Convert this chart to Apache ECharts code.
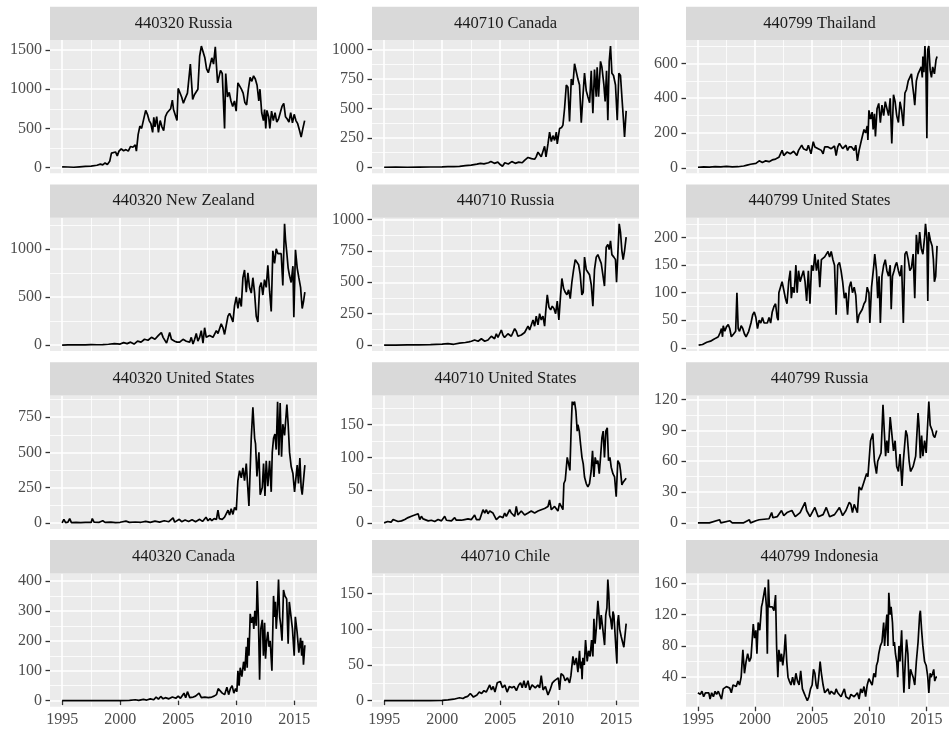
<!DOCTYPE html>
<html>
<head>
<meta charset="utf-8">
<script src="https://cdn.jsdelivr.net/npm/echarts@6/dist/echarts.min.js"></script>
<style>
  html, body { margin: 0; padding: 0; background: #ffffff; }
  #chart { width: 949px; height: 730px; }
</style>
</head>
<body>
<div id="chart"></div>
<script>
// Monthly import volumes by HS code and partner, one facet per pair.
// Each series is a list of [decimal year, value].

const panelTitles = [
  '440320 Russia', '440710 Canada', '440799 Thailand',
  '440320 New Zealand', '440710 Russia', '440799 United States',
  '440320 United States', '440710 United States', '440799 Russia',
  '440320 Canada', '440710 Chile', '440799 Indonesia'
];

const yearTicks = [1995, 2000, 2005, 2010, 2015];

const yTicks = [
  [0, 500, 1000, 1500], [0, 250, 500, 750, 1000], [0, 200, 400, 600],
  [0, 500, 1000], [0, 250, 500, 750, 1000], [0, 50, 100, 150, 200],
  [0, 250, 500, 750], [0, 50, 100, 150], [0, 30, 60, 90, 120],
  [0, 100, 200, 300, 400], [0, 50, 100, 150], [40, 80, 120, 160]
];

const russia440320 = [[1995,10],[1995.5,8],[1996,5],[1996.5,10],[1997,15],[1997.5,20],[1998,30],[1998.3,45],[1998.5,35],[1998.7,60],[1998.9,40],[1999.1,80],[1999.25,185],[1999.4,170],[1999.6,200],[1999.75,150],[1999.9,210],[2000.1,240],[2000.3,215],[2000.5,230],[2000.7,210],[2000.9,270],[2001.1,260],[2001.3,290],[2001.4,210],[2001.55,420],[2001.7,530],[2001.85,500],[2002,600],[2002.2,730],[2002.35,680],[2002.5,600],[2002.65,560],[2002.8,450],[2002.9,640],[2003,520],[2003.15,650],[2003.3,450],[2003.45,600],[2003.6,520],[2003.75,470],[2003.9,650],[2004.05,700],[2004.2,680],[2004.35,750],[2004.5,860],[2004.6,740],[2004.75,760],[2004.9,600],[2005,1010],[2005.15,1020],[2005.3,900],[2005.45,820],[2005.6,880],[2005.8,950],[2005.95,930],[2006.05,1320],[2006.15,1340],[2006.25,870],[2006.4,930],[2006.55,920],[2006.7,1000],[2006.85,1420],[2007,1550],[2007.15,1550],[2007.3,1400],[2007.45,1260],[2007.6,1210],[2007.75,1200],[2007.9,1400],[2008.05,1320],[2008.2,1540],[2008.3,1300],[2008.4,1080],[2008.55,1100],[2008.65,1240],[2008.8,1200],[2009,500],[2009.1,1200],[2009.25,900],[2009.4,960],[2009.55,850],[2009.7,780],[2009.85,850],[2010,720],[2010.15,1080],[2010.3,1100],[2010.45,1000],[2010.6,950],[2010.75,830],[2010.9,800],[2011.05,1000],[2011.2,1150],[2011.35,1100],[2011.5,1170],[2011.65,1130],[2011.8,1050],[2011.95,850],[2012.05,1000],[2012.2,700],[2012.35,600],[2012.45,740],[2012.55,500],[2012.65,730],[2012.8,650],[2012.9,500],[2013.05,720],[2013.2,600],[2013.35,700],[2013.5,580],[2013.65,620],[2013.8,700],[2013.95,780],[2014.1,820],[2014.25,650],[2014.4,620],[2014.55,580],[2014.7,700],[2014.85,570],[2015,680],[2015.15,600],[2015.3,560],[2015.45,480],[2015.6,390],[2015.75,500],[2015.9,600]];

const canada440710 = [[1995,2],[1996,3],[1997,2],[1998,3],[1999,4],[2000,5],[2000.5,7],[2001,8],[2001.5,10],[2002,15],[2002.5,20],[2003,28],[2003.3,35],[2003.6,30],[2004,40],[2004.2,50],[2004.5,35],[2004.8,45],[2005,25],[2005.2,10],[2005.4,40],[2005.7,30],[2006,50],[2006.3,35],[2006.6,45],[2006.9,40],[2007.1,60],[2007.4,85],[2007.7,75],[2007.97,70],[2008.1,90],[2008.26,130],[2008.4,110],[2008.54,90],[2008.7,140],[2008.83,180],[2008.95,90],[2009.12,200],[2009.26,300],[2009.41,220],[2009.55,270],[2009.69,230],[2009.84,300],[2009.92,200],[2010.12,330],[2010.3,340],[2010.41,360],[2010.55,500],[2010.7,700],[2010.84,680],[2010.98,390],[2011.13,750],[2011.27,700],[2011.41,880],[2011.56,890],[2011.7,750],[2011.84,700],[2011.99,380],[2012.13,600],[2012.27,800],[2012.42,650],[2012.56,600],[2012.71,550],[2012.85,820],[2012.99,460],[2013.13,830],[2013.28,600],[2013.36,850],[2013.48,600],[2013.65,900],[2013.77,850],[2013.94,700],[2014.05,560],[2014.17,820],[2014.28,400],[2014.4,900],[2014.51,1030],[2014.63,800],[2014.77,780],[2014.94,700],[2015.09,400],[2015.23,800],[2015.37,780],[2015.49,600],[2015.63,400],[2015.72,260],[2015.86,480]];

const thailand440799 = [[1995,3],[1995.5,5],[1996,4],[1996.5,6],[1997,5],[1997.5,8],[1998,5],[1998.5,6],[1999,10],[1999.3,15],[1999.6,20],[2000.07,25],[2000.36,40],[2000.64,30],[2000.93,40],[2001.22,35],[2001.5,45],[2001.79,50],[2002.08,60],[2002.36,100],[2002.51,70],[2002.79,90],[2003.08,80],[2003.37,95],[2003.65,70],[2003.8,100],[2004.08,130],[2004.23,110],[2004.51,100],[2004.66,130],[2004.89,80],[2005.09,150],[2005.23,120],[2005.52,110],[2005.8,100],[2005.95,80],[2006.09,120],[2006.38,120],[2006.66,110],[2006.95,125],[2007.09,70],[2007.23,120],[2007.38,140],[2007.66,110],[2007.95,130],[2008.09,100],[2008.24,120],[2008.44,120],[2008.67,100],[2008.81,130],[2008.95,40],[2009.1,100],[2009.24,140],[2009.38,180],[2009.53,220],[2009.67,200],[2009.81,240],[2009.87,160],[2009.96,330],[2010.1,280],[2010.24,320],[2010.33,220],[2010.44,310],[2010.53,180],[2010.67,340],[2010.82,370],[2010.96,260],[2011.1,360],[2011.25,300],[2011.39,380],[2011.53,390],[2011.68,300],[2011.82,400],[2011.96,140],[2012.11,420],[2012.25,380],[2012.39,300],[2012.54,260],[2012.68,380],[2012.82,330],[2012.97,240],[2013.11,430],[2013.25,450],[2013.4,500],[2013.54,520],[2013.68,540],[2013.77,480],[2013.88,420],[2013.97,360],[2014.11,500],[2014.26,540],[2014.4,560],[2014.54,580],[2014.63,520],[2014.68,640],[2014.77,550],[2014.86,700],[2014.94,600],[2015.03,170],[2015.11,680],[2015.2,700],[2015.32,560],[2015.43,520],[2015.54,580],[2015.69,540],[2015.83,620],[2015.92,640]];

const newZealand440320 = [[1995,0],[1995.5,2],[1996,1],[1996.5,3],[1997,2],[1997.5,4],[1998,3],[1998.5,5],[1999,8],[1999.5,15],[2000,10],[2000.3,25],[2000.6,15],[2000.9,30],[2001.2,10],[2001.5,40],[2001.8,30],[2002.1,60],[2002.4,50],[2002.7,80],[2003,60],[2003.3,100],[2003.55,130],[2003.7,80],[2003.85,60],[2004,20],[2004.15,80],[2004.27,130],[2004.42,60],[2004.7,40],[2004.9,30],[2005.13,30],[2005.42,60],[2005.7,40],[2005.99,30],[2006.13,80],[2006.28,10],[2006.42,60],[2006.56,120],[2006.7,40],[2006.85,80],[2006.99,150],[2007.14,20],[2007.28,180],[2007.42,80],[2007.71,100],[2008,80],[2008.29,150],[2008.43,120],[2008.71,220],[2008.86,180],[2009,110],[2009.29,300],[2009.43,330],[2009.57,290],[2009.72,240],[2009.86,410],[2010.01,500],[2010.15,380],[2010.29,490],[2010.44,400],[2010.58,700],[2010.72,780],[2010.87,550],[2011.01,750],[2011.15,600],[2011.3,540],[2011.44,700],[2011.58,550],[2011.73,300],[2011.87,240],[2012.02,600],[2012.16,650],[2012.3,520],[2012.44,680],[2012.59,600],[2012.73,830],[2012.88,560],[2013.02,350],[2013.16,980],[2013.31,850],[2013.45,1000],[2013.6,950],[2013.74,930],[2013.88,950],[2014.02,620],[2014.17,1260],[2014.25,1100],[2014.37,950],[2014.48,800],[2014.6,720],[2014.74,650],[2014.89,820],[2014.97,290],[2015.11,990],[2015.26,800],[2015.4,700],[2015.55,600],[2015.69,380],[2015.8,450],[2015.92,550]];

const russia440710 = [[1995,0],[1996,0],[1997,1],[1998,2],[1999,3],[1999.5,6],[2000,8],[2000.5,12],[2001,6],[2001.5,15],[2002,20],[2002.3,25],[2002.52,30],[2002.8,40],[2003.1,30],[2003.38,50],[2003.67,30],[2003.95,40],[2004.24,70],[2004.52,50],[2004.67,90],[2004.81,60],[2005.1,120],[2005.24,80],[2005.38,60],[2005.67,90],[2005.96,70],[2006.25,130],[2006.39,110],[2006.53,70],[2006.82,80],[2007.11,100],[2007.4,150],[2007.54,120],[2007.68,130],[2007.83,200],[2007.97,150],[2008.11,230],[2008.26,160],[2008.4,250],[2008.54,200],[2008.69,230],[2008.83,150],[2008.92,260],[2009.06,400],[2009.21,300],[2009.35,280],[2009.49,310],[2009.64,290],[2009.78,250],[2009.92,350],[2010.06,200],[2010.21,400],[2010.32,530],[2010.47,450],[2010.61,420],[2010.75,400],[2010.9,440],[2011.04,370],[2011.18,500],[2011.33,600],[2011.47,680],[2011.61,690],[2011.76,640],[2011.9,560],[2012.04,400],[2012.16,420],[2012.27,700],[2012.42,600],[2012.56,580],[2012.7,560],[2012.85,480],[2012.99,310],[2013.13,600],[2013.28,700],[2013.42,720],[2013.56,730],[2013.71,650],[2013.85,560],[2013.99,470],[2014.14,780],[2014.28,800],[2014.4,760],[2014.51,830],[2014.63,720],[2014.8,700],[2014.94,680],[2015.03,500],[2015.14,720],[2015.26,965],[2015.37,900],[2015.49,750],[2015.6,680],[2015.72,750],[2015.86,860]];

const unitedStates440799 = [[1995.06,5],[1995.4,6],[1995.77,10],[1996.1,12],[1996.35,15],[1996.6,18],[1996.78,20],[1996.95,28],[1997.06,35],[1997.15,20],[1997.21,40],[1997.35,30],[1997.49,38],[1997.65,42],[1997.78,35],[1997.92,20],[1998.12,25],[1998.3,30],[1998.41,100],[1998.52,35],[1998.64,30],[1998.78,40],[1998.92,35],[1999.07,25],[1999.21,20],[1999.44,30],[1999.64,45],[1999.79,60],[1999.93,65],[2000.07,55],[2000.21,35],[2000.36,50],[2000.5,45],[2000.64,55],[2000.79,45],[2000.93,48],[2001.07,45],[2001.22,55],[2001.36,45],[2001.5,65],[2001.65,75],[2001.79,80],[2001.93,55],[2002.02,50],[2002.08,100],[2002.22,110],[2002.36,120],[2002.51,105],[2002.65,90],[2002.79,80],[2002.94,120],[2003.08,140],[2003.17,90],[2003.28,110],[2003.42,100],[2003.57,150],[2003.68,100],[2003.8,140],[2003.94,120],[2004.08,130],[2004.23,140],[2004.37,120],[2004.51,85],[2004.66,140],[2004.8,80],[2004.94,150],[2005.09,140],[2005.23,170],[2005.37,140],[2005.52,160],[2005.66,110],[2005.8,160],[2006.09,165],[2006.38,175],[2006.52,165],[2006.66,175],[2006.81,160],[2006.95,150],[2007.09,60],[2007.23,150],[2007.38,155],[2007.52,140],[2007.66,120],[2007.81,90],[2007.95,100],[2008.09,60],[2008.24,110],[2008.38,120],[2008.52,100],[2008.67,110],[2008.81,95],[2008.95,45],[2009.1,60],[2009.24,60],[2009.38,70],[2009.53,80],[2009.67,85],[2009.81,110],[2009.96,100],[2010.04,45],[2010.19,110],[2010.39,150],[2010.47,170],[2010.62,140],[2010.73,90],[2010.85,130],[2010.96,45],[2011.1,130],[2011.25,150],[2011.39,160],[2011.53,140],[2011.68,130],[2011.82,150],[2011.91,70],[2012.02,130],[2012.16,140],[2012.28,150],[2012.39,155],[2012.54,140],[2012.68,130],[2012.82,150],[2012.97,45],[2013.11,170],[2013.25,175],[2013.4,160],[2013.54,140],[2013.68,145],[2013.83,170],[2013.97,90],[2014.11,205],[2014.26,170],[2014.4,210],[2014.54,180],[2014.68,170],[2014.83,200],[2014.91,225],[2015.03,200],[2015.11,85],[2015.2,210],[2015.34,195],[2015.49,185],[2015.6,160],[2015.69,120],[2015.8,130],[2015.92,185]];

const unitedStates440320 = [[1995,0],[1995.15,25],[1995.3,2],[1995.5,5],[1995.65,30],[1995.8,2],[1996.2,3],[1996.6,2],[1997,4],[1997.5,3],[1997.6,30],[1997.75,5],[1998.2,4],[1998.5,15],[1998.7,3],[1999.2,5],[1999.6,2],[2000,4],[2000.5,12],[2000.8,3],[2001.3,6],[2001.8,4],[2002.2,10],[2002.6,3],[2003,12],[2003.4,5],[2003.8,15],[2004.2,8],[2004.56,35],[2004.7,5],[2005.1,25],[2005.3,8],[2005.6,20],[2005.9,10],[2006.2,22],[2006.5,8],[2006.85,25],[2007.1,10],[2007.4,40],[2007.57,15],[2007.75,30],[2007.9,15],[2008.1,30],[2008.3,25],[2008.43,90],[2008.55,30],[2008.8,25],[2009,40],[2009.15,35],[2009.3,90],[2009.43,55],[2009.57,100],[2009.72,60],[2009.86,110],[2010.01,90],[2010.15,300],[2010.29,370],[2010.44,320],[2010.58,390],[2010.72,300],[2010.87,420],[2011.1,120],[2011.3,600],[2011.44,820],[2011.59,600],[2011.67,560],[2011.79,330],[2011.96,500],[2012.07,200],[2012.25,250],[2012.36,420],[2012.48,190],[2012.59,440],[2012.73,260],[2012.88,440],[2013.02,220],[2013.11,500],[2013.22,600],[2013.34,630],[2013.45,520],[2013.57,860],[2013.68,480],[2013.79,850],[2013.91,470],[2014.02,700],[2014.17,620],[2014.37,840],[2014.48,700],[2014.6,500],[2014.74,400],[2014.89,350],[2015.03,220],[2015.17,230],[2015.26,410],[2015.37,280],[2015.49,460],[2015.6,250],[2015.69,200],[2015.8,300],[2015.92,410]];

const unitedStates440710 = [[1995,0],[1995.3,2],[1995.6,1],[1995.77,5],[1996.2,2],[1996.5,3],[1996.78,5],[1997.07,8],[1997.2,5],[1997.35,10],[1997.5,8],[1997.64,12],[1997.78,10],[1997.93,14],[1998.07,5],[1998.21,10],[1998.36,6],[1998.5,6],[1998.8,3],[1999.07,4],[1999.36,2],[1999.65,5],[1999.94,3],[2000.22,10],[2000.37,4],[2000.51,5],[2000.8,3],[2001.08,8],[2001.22,4],[2001.37,5],[2001.65,4],[2001.94,5],[2002.23,6],[2002.52,5],[2002.8,12],[2002.95,5],[2003.24,5],[2003.38,8],[2003.52,20],[2003.67,15],[2003.81,20],[2003.95,14],[2004.1,18],[2004.24,20],[2004.38,15],[2004.53,12],[2004.67,5],[2004.81,8],[2004.96,10],[2005.1,12],[2005.24,8],[2005.39,15],[2005.53,10],[2005.67,12],[2005.82,20],[2005.96,15],[2006.1,18],[2006.25,10],[2006.39,25],[2006.53,12],[2006.82,18],[2006.97,15],[2007.11,12],[2007.4,15],[2007.68,18],[2007.97,15],[2008.26,18],[2008.54,20],[2008.83,22],[2009.12,25],[2009.26,35],[2009.41,20],[2009.69,25],[2009.84,22],[2009.98,18],[2010.12,30],[2010.27,25],[2010.41,20],[2010.49,60],[2010.61,65],[2010.78,100],[2010.9,90],[2011.01,80],[2011.13,150],[2011.21,185],[2011.3,180],[2011.41,185],[2011.53,170],[2011.64,140],[2011.7,150],[2011.82,140],[2011.93,120],[2012.05,100],[2012.16,90],[2012.27,70],[2012.42,60],[2012.56,55],[2012.7,60],[2012.85,80],[2012.96,110],[2013.08,70],[2013.19,100],[2013.31,90],[2013.42,95],[2013.54,75],[2013.65,100],[2013.77,130],[2013.88,140],[2013.99,100],[2014.11,140],[2014.23,145],[2014.34,95],[2014.46,100],[2014.57,85],[2014.72,75],[2014.86,70],[2015,40],[2015.14,95],[2015.29,90],[2015.37,80],[2015.49,58],[2015.6,62],[2015.72,60],[2015.86,68]];

const russia440799 = [[1995,0],[1996,0],[1996.9,3],[1997,0],[1997.8,2],[1998,0],[1999,0],[1999.5,3],[1999.6,0],[2000.07,2],[2000.36,3],[2001.22,4],[2001.45,10],[2001.56,5],[2001.93,6],[2002.31,12],[2002.51,7],[2002.79,10],[2003.22,12],[2003.51,6],[2003.94,10],[2004.37,20],[2004.51,12],[2004.8,6],[2005.23,15],[2005.52,6],[2005.95,8],[2006.23,15],[2006.52,6],[2006.95,8],[2007.38,15],[2007.66,7],[2007.95,12],[2008.24,20],[2008.38,18],[2008.52,10],[2008.67,18],[2008.95,10],[2009.1,35],[2009.3,32],[2009.53,40],[2009.76,48],[2009.87,45],[2010.1,80],[2010.3,87],[2010.44,60],[2010.62,48],[2010.73,60],[2011.02,68],[2011.19,115],[2011.3,90],[2011.42,65],[2011.53,80],[2011.65,68],[2011.82,103],[2011.96,102],[2012.11,70],[2012.25,80],[2012.39,55],[2012.54,50],[2012.68,67],[2012.85,36],[2012.97,60],[2013.19,90],[2013.31,85],[2013.48,60],[2013.6,50],[2013.83,55],[2014.05,65],[2014.26,107],[2014.34,95],[2014.46,63],[2014.57,85],[2014.68,65],[2014.83,80],[2014.97,68],[2015.2,118],[2015.32,95],[2015.49,90],[2015.6,85],[2015.72,83],[2015.89,90]];

const canada440320 = [[1995,0],[1996,0],[1997,0],[1998,0],[1999,0],[2000,0],[2000.8,1],[2001.3,3],[2001.6,1],[2002,4],[2002.3,2],[2002.6,6],[2002.9,3],[2003.1,12],[2003.3,5],[2003.5,14],[2003.7,6],[2003.9,10],[2004.2,6],[2004.5,12],[2004.8,8],[2005,15],[2005.2,8],[2005.5,25],[2005.65,10],[2005.8,30],[2006,10],[2006.3,12],[2006.5,15],[2006.8,25],[2007,10],[2007.3,12],[2007.6,10],[2007.9,12],[2008.1,15],[2008.3,20],[2008.45,40],[2008.6,35],[2008.8,25],[2009,20],[2009.2,45],[2009.35,20],[2009.5,40],[2009.65,50],[2009.8,25],[2009.95,40],[2010.06,30],[2010.15,100],[2010.25,50],[2010.35,110],[2010.49,80],[2010.64,130],[2010.75,100],[2010.87,180],[2010.95,110],[2011.01,210],[2011.1,150],[2011.21,290],[2011.32,260],[2011.44,280],[2011.52,240],[2011.61,300],[2011.73,250],[2011.81,400],[2011.92,270],[2012.02,70],[2012.12,240],[2012.25,270],[2012.35,150],[2012.45,260],[2012.53,140],[2012.63,200],[2012.73,230],[2012.83,180],[2012.93,200],[2013.08,100],[2013.22,350],[2013.32,280],[2013.38,330],[2013.45,240],[2013.55,300],[2013.65,405],[2013.75,280],[2013.85,250],[2013.95,200],[2014.08,370],[2014.2,350],[2014.35,340],[2014.48,190],[2014.58,330],[2014.68,330],[2014.85,240],[2015,150],[2015.1,280],[2015.25,230],[2015.4,160],[2015.55,210],[2015.65,150],[2015.72,200],[2015.8,120],[2015.92,185]];

const chile440710 = [[1995,0],[1996,0],[1997,0],[1998,0],[1999,0],[2000,0.5],[2000.5,1],[2001,2],[2001.5,4],[2001.8,3],[2002,5],[2002.2,6],[2002.43,10],[2002.7,5],[2003,8],[2003.2,12],[2003.4,10],[2003.6,14],[2003.8,12],[2004.1,22],[2004.25,15],[2004.4,20],[2004.55,12],[2004.75,25],[2005.01,27],[2005.2,18],[2005.4,22],[2005.6,12],[2005.8,20],[2006.02,18],[2006.2,20],[2006.4,14],[2006.6,22],[2006.76,25],[2006.9,18],[2007.05,28],[2007.2,18],[2007.4,28],[2007.55,15],[2007.75,22],[2008.03,18],[2008.25,22],[2008.4,18],[2008.54,35],[2008.7,15],[2008.9,20],[2009.12,8],[2009.3,15],[2009.5,25],[2009.69,28],[2009.85,30],[2010.01,32],[2010.12,15],[2010.25,38],[2010.45,35],[2010.6,28],[2010.8,32],[2010.98,25],[2011.1,35],[2011.27,62],[2011.4,50],[2011.56,60],[2011.7,40],[2011.84,70],[2011.92,45],[2011.99,55],[2012.06,30],[2012.13,60],[2012.25,50],[2012.36,85],[2012.5,55],[2012.62,70],[2012.75,62],[2012.88,85],[2012.99,62],[2013.08,115],[2013.18,80],[2013.28,100],[2013.42,140],[2013.52,120],[2013.6,100],[2013.71,120],[2013.85,100],[2014,78],[2014.1,120],[2014.2,130],[2014.28,170],[2014.36,150],[2014.43,120],[2014.52,115],[2014.63,100],[2014.72,125],[2014.8,120],[2014.94,120],[2015.06,52],[2015.12,110],[2015.2,120],[2015.3,100],[2015.43,90],[2015.66,75],[2015.86,108]];

const indonesia440799 = [[1995,20],[1995.2,18],[1995.35,22],[1995.5,15],[1995.65,20],[1995.8,18],[1995.95,20],[1996.06,12],[1996.2,20],[1996.35,15],[1996.5,22],[1996.63,18],[1996.78,22],[1996.92,20],[1997.06,12],[1997.21,25],[1997.49,28],[1997.78,26],[1997.92,20],[1998.07,30],[1998.35,28],[1998.5,35],[1998.64,30],[1998.78,40],[1998.93,75],[1999.07,45],[1999.21,60],[1999.35,70],[1999.5,60],[1999.64,65],[1999.84,108],[1999.95,90],[2000.07,100],[2000.16,70],[2000.27,110],[2000.41,100],[2000.56,130],[2000.64,135],[2000.79,135],[2000.87,155],[2000.99,130],[2001.07,70],[2001.16,165],[2001.25,130],[2001.36,128],[2001.5,130],[2001.65,125],[2001.79,145],[2001.88,80],[2001.99,40],[2002.08,75],[2002.22,60],[2002.31,70],[2002.42,55],[2002.54,70],[2002.65,95],[2002.77,60],[2002.88,40],[2003,35],[2003.14,30],[2003.28,40],[2003.42,30],[2003.57,45],[2003.71,35],[2003.85,30],[2003.99,48],[2004.14,25],[2004.28,20],[2004.42,15],[2004.57,10],[2004.71,15],[2004.85,25],[2004.99,30],[2005.11,50],[2005.23,45],[2005.34,30],[2005.46,25],[2005.57,40],[2005.69,60],[2005.8,45],[2005.95,30],[2006.09,20],[2006.23,22],[2006.38,25],[2006.52,18],[2006.66,22],[2006.81,20],[2006.95,18],[2007.09,25],[2007.23,20],[2007.52,15],[2007.66,20],[2007.81,25],[2007.95,15],[2008.09,15],[2008.24,12],[2008.38,18],[2008.52,20],[2008.67,15],[2008.81,15],[2008.95,20],[2009.1,12],[2009.24,25],[2009.38,20],[2009.53,28],[2009.67,15],[2009.81,30],[2009.96,38],[2010.1,40],[2010.24,30],[2010.39,45],[2010.53,40],[2010.62,55],[2010.73,60],[2010.82,70],[2010.96,80],[2011.1,85],[2011.25,110],[2011.33,80],[2011.42,100],[2011.53,120],[2011.62,80],[2011.7,148],[2011.82,120],[2011.9,130],[2012.02,110],[2012.11,80],[2012.19,85],[2012.28,70],[2012.39,60],[2012.48,40],[2012.59,80],[2012.68,60],[2012.82,100],[2012.91,60],[2013.02,20],[2013.14,60],[2013.25,88],[2013.37,70],[2013.48,25],[2013.6,50],[2013.71,45],[2013.83,40],[2013.97,30],[2014.11,60],[2014.26,85],[2014.4,120],[2014.46,125],[2014.57,100],[2014.68,80],[2014.83,60],[2014.97,55],[2015.11,40],[2015.2,20],[2015.32,45],[2015.4,40],[2015.54,45],[2015.63,50],[2015.72,35],[2015.83,40],[2015.92,40]];

const panelData = [
  russia440320, canada440710, thailand440799,
  newZealand440320, russia440710, unitedStates440799,
  unitedStates440320, unitedStates440710, russia440799,
  canada440320, chile440710, indonesia440799
];

// ---- facet layout (ggplot grey theme look) ----
const FONT = "'Liberation Serif', 'DejaVu Serif', serif";
const colLeft = [50, 372, 686];
const panelW = 267;
const stripTop0 = 6.7;
const rowStep = 177.8;
const stripH = 33.3;
const panelH = 133.3;

// ggplot-style 5% expansion on continuous scales
function expanded(lo, hi) {
  const pad = (hi - lo) * 0.05;
  return [lo - pad, hi + pad];
}
function minorBreaks(major, lo, hi) {
  const step = major[1] - major[0];
  const out = [major[0] - step / 2];
  for (let i = 0; i < major.length - 1; i++) out.push((major[i] + major[i + 1]) / 2);
  out.push(major[major.length - 1] + step / 2);
  return out.filter(v => v > lo && v < hi);
}

let tLo = Infinity, tHi = -Infinity;
panelData.forEach(d => d.forEach(p => { tLo = Math.min(tLo, p[0]); tHi = Math.max(tHi, p[0]); }));
const [xMin, xMax] = expanded(tLo, tHi);
const xMinor = minorBreaks(yearTicks, xMin, xMax);

const grids = [], xAxes = [], yAxes = [], series = [], graphics = [];

panelData.forEach((data, i) => {
  const row = Math.floor(i / 3), col = i % 3;
  const stripTop = stripTop0 + row * rowStep;
  const top = stripTop + stripH;
  const left = colLeft[col];
  const bottomRow = row === 3;

  grids.push({
    left: left, top: top, width: panelW, height: panelH,
    show: true, backgroundColor: '#EBEBEB', borderWidth: 0, containLabel: false
  });

  const vals = data.map(p => p[1]);
  const [yMin, yMax] = expanded(Math.min(...vals), Math.max(...vals));
  const yMajor = yTicks[i];
  const yMinor = minorBreaks(yMajor, yMin, yMax);

  // major x axis: ticks, labels and major grid lines
  xAxes.push({
    gridIndex: i, type: 'value', min: xMin, max: xMax, position: 'bottom',
    axisLine: { show: false },
    axisTick: { show: bottomRow, customValues: yearTicks, length: 4.5,
                lineStyle: { color: '#333333', width: 1.3 } },
    axisLabel: { show: bottomRow, customValues: yearTicks, margin: 5,
                 color: '#4D4D4D', fontFamily: FONT, fontSize: 16,
                 formatter: v => String(v) },
    splitLine: { show: true, lineStyle: { color: '#FFFFFF', width: 1.6 } }
  });
  // minor x grid lines
  xAxes.push({
    gridIndex: i, type: 'value', min: xMin, max: xMax, position: 'top',
    axisLine: { show: false },
    axisTick: { show: false, customValues: xMinor },
    axisLabel: { show: false, customValues: xMinor },
    splitLine: { show: true, lineStyle: { color: '#FFFFFF', width: 0.8 } }
  });

  yAxes.push({
    gridIndex: i, type: 'value', min: yMin, max: yMax, position: 'left',
    axisLine: { show: false },
    axisTick: { show: true, customValues: yMajor, length: 4.5,
                lineStyle: { color: '#333333', width: 1.3 } },
    axisLabel: { show: true, customValues: yMajor, margin: 8,
                 color: '#4D4D4D', fontFamily: FONT, fontSize: 16,
                 formatter: v => String(v) },
    splitLine: { show: true, lineStyle: { color: '#FFFFFF', width: 1.6 } }
  });
  yAxes.push({
    gridIndex: i, type: 'value', min: yMin, max: yMax, position: 'right',
    axisLine: { show: false },
    axisTick: { show: false, customValues: yMinor },
    axisLabel: { show: false, customValues: yMinor },
    splitLine: { show: true, lineStyle: { color: '#FFFFFF', width: 0.8 } }
  });

  series.push({
    type: 'line', name: panelTitles[i],
    xAxisIndex: 2 * i, yAxisIndex: 2 * i,
    data: data, showSymbol: false, symbol: 'none',
    lineStyle: { color: '#000000', width: 1.7 },
    silent: true, animation: false
  });

  // facet strip
  graphics.push({
    type: 'rect', silent: true, z: 10,
    shape: { x: left, y: stripTop, width: panelW, height: stripH },
    style: { fill: '#D9D9D9' }
  });
  graphics.push({
    type: 'text', silent: true, z: 11,
    x: left + panelW / 2, y: stripTop + stripH / 2,
    style: { text: panelTitles[i], fill: '#1A1A1A', font: '16.5px ' + FONT,
             align: 'center', verticalAlign: 'middle' }
  });
});

const chart = echarts.init(document.getElementById('chart'), null, { renderer: 'canvas' });
chart.setOption({
  backgroundColor: '#FFFFFF',
  animation: false,
  grid: grids,
  xAxis: xAxes,
  yAxis: yAxes,
  series: series,
  graphic: graphics
});
</script>
</body>
</html>
